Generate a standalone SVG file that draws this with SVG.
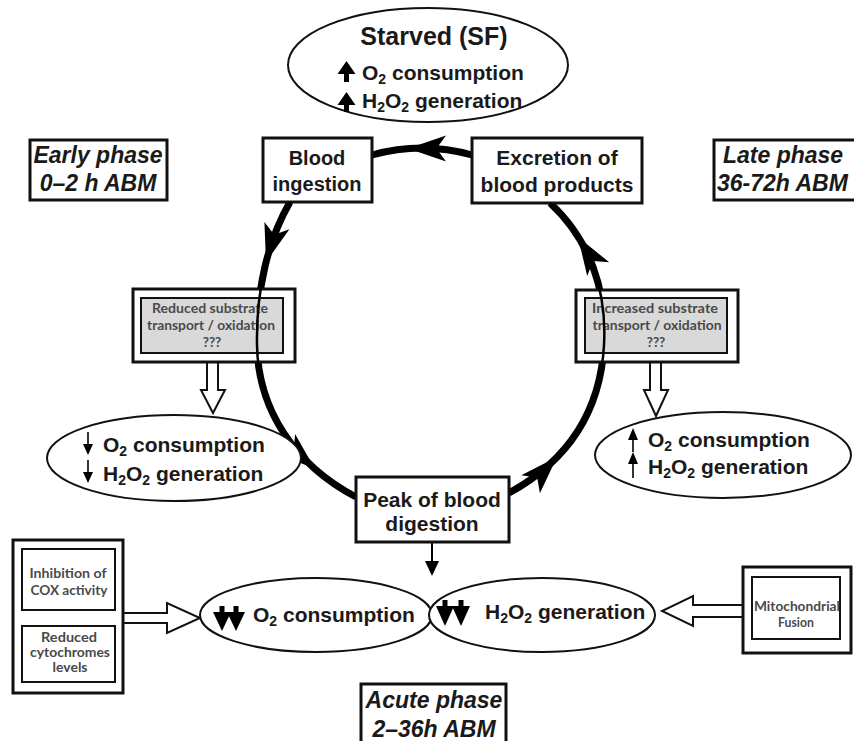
<svg xmlns="http://www.w3.org/2000/svg" width="854" height="741" viewBox="0 0 854 741">
<style>
.bx{fill:#fff;stroke:#111;stroke-width:3}
.ib{fill:#fff;stroke:#111;stroke-width:2}
.gb{fill:#d9d9d9;stroke:#111;stroke-width:2}
.el{fill:#fff;stroke:#111;stroke-width:2}
.t{font-family:"Liberation Sans",Arial,sans-serif;font-weight:bold;fill:#1a1a1a}
.ph{font-family:"Liberation Sans",Arial,sans-serif;font-weight:bold;font-style:italic;font-size:23px;fill:#1a1a1a}
.s{font-family:Lato,"Liberation Sans",sans-serif;font-weight:bold;font-size:13.5px;fill:#4a4a4a;text-anchor:middle}
.s13{font-family:Lato,"Liberation Sans",sans-serif;font-weight:bold;font-size:12.5px;fill:#4a4a4a;text-anchor:middle}
.cyc{fill:none;stroke:#000;stroke-width:7}
.cyt{fill:none;stroke:#000;stroke-width:2.5}
.ah{fill:#000}
.ho{fill:#fff;stroke:#111;stroke-width:2}
.sm{stroke:#000;stroke-width:1.6}
</style>

<g id="connectors">
  <path class="cyc" d="M472,155 Q422,141 372,155"/>
  <path class="cyc" d="M290,202 C268,240 256,290 257,345 C258,410 295,465 356,497"/>
  <path class="cyc" d="M509,493 C560,465 600,420 604,345 C607,290 590,240 550,203"/>
  <polygon class="ah" points="408,148.5 446,161.5 436.5,148.5 446,135.5"/>
  <polygon class="ah" points="266,262 289.4,229.3 274.2,234.7 264.4,221.9"/>
  <polygon class="ah" points="315,469 277.9,453.5 293.7,450.1 295.1,434.1"/>
  <polygon class="ah" points="557,457 539.9,493.3 537.2,477.5 521.3,475.3"/>
  <polygon class="ah" points="578,237 609.2,262.3 593.1,261.1 587.2,276.1"/>
  <line x1="432" y1="542" x2="432" y2="563" stroke="#000" stroke-width="2"/>
  <polygon class="ah" points="425,561 439,561 432,576"/>
  <polygon class="ho" points="207,362 218,362 218,390 225,390 213,413 201,390 207,390"/>
  <polygon class="ho" points="650,362 661,362 661,390 668,390 656,416 644,390 650,390"/>
  <polygon class="ho" points="123,613 167,613 167,603 200,618 167,633 167,623 123,623"/>
  <polygon class="ho" points="743,605 693,605 693,596 662,611 693,626 693,617 743,617"/>
</g>

<g id="starved">
  <ellipse class="el" cx="428" cy="65" rx="140" ry="57"/>
  <text class="t" x="434" y="45" font-size="25" text-anchor="middle">Starved (SF)</text>
  <polygon class="ah" points="346.5,61 355.5,74 349,74 349,82 344,82 344,74 337.5,74"/>
  <text class="t" x="362" y="80" font-size="21">O<tspan font-size="14" dy="4">2</tspan><tspan dy="-4"> consumption</tspan></text>
  <polygon class="ah" points="346.5,92 355.5,105 349,105 349,112 344,112 344,105 337.5,105"/>
  <text class="t" x="362" y="108" font-size="21">H<tspan font-size="14" dy="4">2</tspan><tspan dy="-4">O</tspan><tspan font-size="14" dy="4">2</tspan><tspan dy="-4"> generation</tspan></text>
</g>

<g id="early-phase">
  <rect class="bx" x="30" y="140" width="137" height="60" stroke-width="2"/>
  <text class="ph" x="98" y="163" text-anchor="middle">Early phase</text>
  <text class="ph" x="98" y="191" text-anchor="middle">0–2 h ABM</text>
</g>

<g id="late-phase">
  <rect class="bx" x="714" y="140" width="150" height="60" stroke-width="2"/>
  <text class="ph" x="723" y="163">Late phase</text>
  <text class="ph" x="717" y="191">36-72h ABM</text>
</g>

<g id="blood-ingestion">
  <rect class="bx" x="263" y="138" width="109" height="64"/>
  <text class="t" x="317" y="165" font-size="20" text-anchor="middle">Blood</text>
  <text class="t" x="317" y="191" font-size="20" text-anchor="middle">ingestion</text>
</g>

<g id="excretion">
  <rect class="bx" x="472" y="138" width="170" height="65"/>
  <text class="t" x="557" y="165" font-size="21" text-anchor="middle">Excretion of</text>
  <text class="t" x="557" y="192" font-size="21" text-anchor="middle">blood products</text>
</g>

<g id="reduced-substrate">
  <rect class="bx" x="133" y="289" width="162" height="73"/>
  <rect class="gb" x="141" y="298" width="142" height="55"/>
  <text class="s" x="210" y="313" textLength="116" lengthAdjust="spacingAndGlyphs">Reduced substrate</text>
  <text class="s" x="211" y="330" textLength="128" lengthAdjust="spacingAndGlyphs">transport / oxidation</text>
  <text class="s" x="212" y="347">???</text>
</g>

<g id="increased-substrate">
  <rect class="bx" x="576" y="290" width="162" height="72"/>
  <rect class="gb" x="585" y="298" width="142" height="55"/>
  <text class="s" x="655" y="313" textLength="126" lengthAdjust="spacingAndGlyphs">Increased substrate</text>
  <text class="s" x="657" y="330" textLength="129" lengthAdjust="spacingAndGlyphs">transport / oxidation</text>
  <text class="s" x="656" y="347">???</text>
</g>

<g id="overlay-cycle">
  <path class="cyt" d="M290,202 C268,240 256,290 257,345 C258,410 295,465 356,497"/>
  <path class="cyt" d="M509,493 C560,465 600,420 604,345 C607,290 590,240 550,203"/>
</g>

<g id="early-effect">
  <ellipse class="el" cx="174" cy="458" rx="127" ry="43"/>
  <line class="sm" x1="88" y1="432" x2="88" y2="446"/>
  <polygon class="ah" points="83,444 93,444 88,455"/>
  <line class="sm" x1="88" y1="460" x2="88" y2="474"/>
  <polygon class="ah" points="83,472 93,472 88,483"/>
  <text class="t" x="103" y="452" font-size="21">O<tspan font-size="14" dy="4">2</tspan><tspan dy="-4"> consumption</tspan></text>
  <text class="t" x="103" y="481" font-size="21">H<tspan font-size="14" dy="4">2</tspan><tspan dy="-4">O</tspan><tspan font-size="14" dy="4">2</tspan><tspan dy="-4"> generation</tspan></text>
</g>

<g id="late-effect">
  <ellipse class="el" cx="723" cy="455" rx="128" ry="43"/>
  <polygon class="ah" points="628,440 638,440 633,428"/>
  <line class="sm" x1="633" y1="438" x2="633" y2="452"/>
  <polygon class="ah" points="628,464 638,464 633,452"/>
  <line class="sm" x1="633" y1="462" x2="633" y2="478"/>
  <text class="t" x="648" y="447" font-size="21">O<tspan font-size="14" dy="4">2</tspan><tspan dy="-4"> consumption</tspan></text>
  <text class="t" x="648" y="474" font-size="21">H<tspan font-size="14" dy="4">2</tspan><tspan dy="-4">O</tspan><tspan font-size="14" dy="4">2</tspan><tspan dy="-4"> generation</tspan></text>
</g>

<g id="peak-digestion">
  <rect class="bx" x="356" y="477" width="153" height="65"/>
  <text class="t" x="432" y="507" font-size="21" text-anchor="middle">Peak of blood</text>
  <text class="t" x="432" y="531" font-size="21" text-anchor="middle">digestion</text>
</g>

<g id="acute-o2">
  <ellipse class="el" cx="316" cy="615" rx="116" ry="37"/>
  <rect class="ah" x="219.5" y="606" width="5" height="10"/>
  <polygon class="ah" points="213,612 231,612 222,631"/>
  <rect class="ah" x="233.5" y="606" width="5" height="10"/>
  <polygon class="ah" points="227,612 245,612 236,631"/>
  <text class="t" x="253" y="622" font-size="21">O<tspan font-size="14" dy="4">2</tspan><tspan dy="-4"> consumption</tspan></text>
</g>

<g id="acute-h2o2">
  <ellipse class="el" cx="542" cy="615" rx="113" ry="37"/>
  <rect class="ah" x="442.5" y="600" width="5" height="10"/>
  <polygon class="ah" points="436,606 454,606 445,626"/>
  <rect class="ah" x="458.5" y="600" width="5" height="10"/>
  <polygon class="ah" points="452,606 470,606 461,626"/>
  <text class="t" x="485" y="619" font-size="21">H<tspan font-size="14" dy="4">2</tspan><tspan dy="-4">O</tspan><tspan font-size="14" dy="4">2</tspan><tspan dy="-4"> generation</tspan></text>
</g>

<g id="cox-group">
  <rect class="bx" x="13" y="540" width="110" height="153"/>
  <rect class="ib" x="22" y="549" width="93" height="61"/>
  <text class="s13" x="68" y="578" textLength="77" lengthAdjust="spacingAndGlyphs">Inhibition of</text>
  <text class="s13" x="69" y="595" textLength="77" lengthAdjust="spacingAndGlyphs">COX activity</text>
  <rect class="ib" x="22" y="626" width="93" height="56"/>
  <text class="s13" x="69" y="642" textLength="56" lengthAdjust="spacingAndGlyphs">Reduced</text>
  <text class="s13" x="70" y="657" textLength="80" lengthAdjust="spacingAndGlyphs">cytochromes</text>
  <text class="s13" x="70" y="672" textLength="35" lengthAdjust="spacingAndGlyphs">levels</text>
</g>

<g id="mito-fusion">
  <rect class="bx" x="743" y="567" width="108" height="86"/>
  <rect class="ib" x="752" y="577" width="88" height="62"/>
  <text class="s13" x="797" y="611" textLength="86" lengthAdjust="spacingAndGlyphs">Mitochondrial</text>
  <text class="s13" x="796" y="627" textLength="36" lengthAdjust="spacingAndGlyphs">Fusion</text>
</g>

<g id="acute-phase">
  <rect class="bx" x="361" y="684" width="145" height="70" stroke-width="2"/>
  <text class="ph" x="434" y="708" text-anchor="middle">Acute phase</text>
  <text class="ph" x="434" y="737" text-anchor="middle">2–36h ABM</text>
</g>
</svg>
